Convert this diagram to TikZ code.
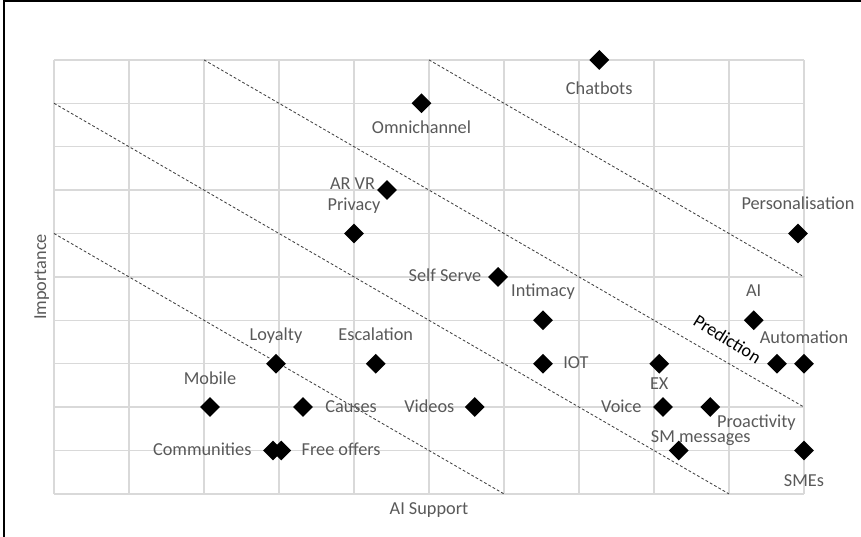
\documentclass[tikz,border=0pt]{standalone}
\usepackage{fontspec}
\setmainfont{Carlito}
\usetikzlibrary{shapes.geometric,positioning}
\definecolor{textgray}{HTML}{595959}
\definecolor{gridgray}{HTML}{D9D9D9}
\definecolor{bandgray}{HTML}{404040}
\tikzset{
  pt/.style={diamond, fill=black, inner sep=0pt, minimum size=0.5cm},
  lbl/.style={text=textgray, inner sep=1pt, text height=0.34cm, text depth=0.09cm,
    font=\fontsize{13}{15}\selectfont},
  band/.style={bandgray, line width=0.6pt, dash pattern=on 2pt off 1.5pt},
}

\begin{document}
\begin{tikzpicture}[x=1.875cm, y=1.085cm, node distance=0.18cm]
\useasboundingbox (-0.72,-0.99) rectangle (10.76,11.38);

% Frame (left and top edge only)
\draw[line width=1.4pt] (-0.667,-0.99) -- (-0.667,11.35) -- (10.76,11.35);

% Grid
\draw[gridgray, line width=1pt, step={(1,1)}] (0,0) grid (10,10);

% Diagonal bands
\draw[band] (0,6) -- (6,0);
\draw[band] (0,9) -- (9,0);
\draw[band] (2,10) -- (10,2);
\draw[band] (5,10) -- (10,5);

% Axis titles
\node[lbl, rotate=90] (ytitle) at (-0.173,5) {Importance};
\node[lbl] (xtitle) at (5,-0.369) {AI Support};

% Data points
\node[pt] (chat) at (7.27,10) {};
\node[pt] (omni) at (4.9,9) {};
\node[pt] (arvr) at (4.44,7) {};
\node[pt] (priv) at (4.0,6) {};
\node[pt] (pers) at (9.92,6) {};
\node[pt] (self) at (5.92,5) {};
\node[pt] (inti) at (6.52,4) {};
\node[pt] (ai) at (9.33,4) {};
\node[pt] (loy) at (2.96,3) {};
\node[pt] (esc) at (4.29,3) {};
\node[pt] (iot) at (6.52,3) {};
\node[pt] (ex) at (8.07,3) {};
\node[pt] (pred) at (9.64,3) {};
\node[pt] (auto) at (10,3) {};
\node[pt] (mob) at (2.08,2) {};
\node[pt] (cau) at (3.32,2) {};
\node[pt] (vid) at (5.61,2) {};
\node[pt] (voice) at (8.12,2) {};
\node[pt] (proac) at (8.75,2) {};
\node[pt] (com) at (2.92,1) {};
\node[pt] (free) at (3.03,1) {};
\node[pt] (smm) at (8.33,1) {};
\node[pt] (sme) at (10,1) {};

% Labels
\node[lbl, below=0.23cm of chat] (chatl) {Chatbots};
\node[lbl, below=0.12cm of omni] (omnil) {Omnichannel};
\node[lbl, left=0pt of arvr, yshift=0.15cm] (arvrl) {AR VR};
\node[lbl, above=of priv] (privl) {Privacy};
\node[lbl, above=0.2cm of pers] (persl) {Personalisation};
\node[lbl, left=0.12cm of self] (selfl) {Self Serve};
\node[lbl, above=0.2cm of inti] (intil) {Intimacy};
\node[lbl, above=0.2cm of ai] (ail) {AI};
\node[lbl, above=of loy] (loyl) {Loyalty};
\node[lbl, above=of esc] (escl) {Escalation};
\node[lbl, right=0.21cm of iot] (iotl) {IOT};
\node[lbl, below=0cm of ex] (exl) {EX};
\node[lbl, text=black, rotate=-32] (predl) at (8.97,3.55) {Prediction};
\node[lbl, above=0.12cm of auto] (autol) {Automation};
\node[lbl, above=of mob] (mobl) {Mobile};
\node[lbl, right=0.26cm of cau] (caul) {Causes};
\node[lbl, left=0.21cm of vid] (vidl) {Videos};
\node[lbl, left=0.24cm of voice] (voicel) {Voice};
\node[lbl, below right=0cm and 0cm of proac] (proacl) {Proactivity};
\node[lbl, left=0.24cm of com] (coml) {Communities};
\node[lbl, right=0.21cm of free] (freel) {Free offers};
\node[lbl, above=-0.18cm of smm, xshift=0.55cm] (smml) {SM messages};
\node[lbl, below=0.25cm of sme] (smel) {SMEs};
\end{tikzpicture}
\end{document}
